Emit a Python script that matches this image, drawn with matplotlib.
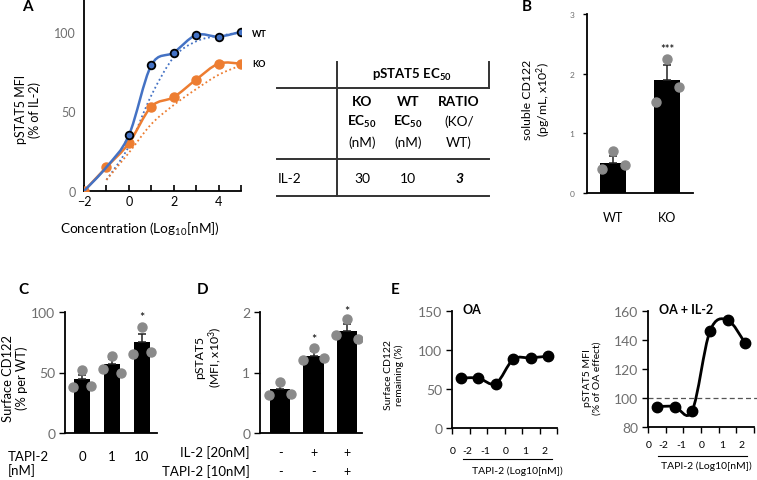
import numpy as np
import matplotlib
matplotlib.use("Agg")
import matplotlib.pyplot as plt
from matplotlib.path import Path
from matplotlib.patches import PathPatch
from matplotlib.lines import Line2D

plt.rcParams['font.family'] = ['Lato', 'DejaVu Sans']
plt.rcParams['mathtext.fontset'] = 'custom'
plt.rcParams['mathtext.rm'] = 'Lato'
plt.rcParams['mathtext.it'] = 'Lato:italic'
plt.rcParams['mathtext.bf'] = 'Lato:bold'

# ---------------- data ----------------
# Panel A
conc_A = [-2, -1, 0, 1, 2, 3, 4, 5]
wt_A = [0, 15, 35, 79, 87, 98, 97, 100]
ko_A = [0, 15, 30, 53, 59, 70, 80, 80]
fit_conc_A = [-1, 0, 1, 2, 3, 4, 5]
wt_fit_A = [7, 28, 60, 84, 94, 97.5, 99.5]
ko_fit_A = [7, 24, 42, 54, 64, 73, 79]

# Table
table_cols = ["KO", "WT", "RATIO"]
table_row = "IL-2"
table_vals = ["30", "10", "3"]

# Panel B
cats_B = ["WT", "KO"]
bars_B = [0.5, 1.9]
err_B = [0.12, 0.25]
dots_B = [[0.40, 0.70, 0.47], [1.52, 2.25, 1.77]]

# Panel C
cats_C = ["0", "1", "10"]
bars_C = [45, 57, 75]
err_C = [3, 4, 7]
dots_C = [[38, 52, 39], [53, 64, 50], [65, 88, 67]]

# Panel D
il2_D = ["-", "+", "+"]
tapi_D = ["-", "-", "+"]
bars_D = [0.72, 1.28, 1.68]
err_D = [0.10, 0.07, 0.12]
dots_D = [[0.63, 0.85, 0.65], [1.20, 1.40, 1.24], [1.62, 1.88, 1.55]]

# Panel E
cats_E = ["0", "-2", "-1", "0", "1", "2"]
oa_E = [64, 64, 57, 88, 90, 92]
oa_il2_E = [94, 94, 91, 146, 154, 138]

# ---------------- style ----------------
BLUE = "#4472C4"
ORANGE = "#ED7D31"
GRAY_DOT = "#8a8a8a"
TICK_GRAY = "#6e6e6e"

W, H = 757, 481
fig = plt.figure(figsize=(W / 100, H / 100), dpi=100)


def ax_px(left, top, right, bottom):
    return fig.add_axes([left / W, 1 - bottom / H, (right - left) / W, (bottom - top) / H])


def smooth(ax, xs, ys, **kw):
    pts = np.column_stack([xs, ys]).astype(float)
    n = len(pts)
    verts = [pts[0]]
    codes = [Path.MOVETO]
    for i in range(n - 1):
        p0 = pts[i - 1] if i > 0 else pts[i]
        p1 = pts[i]
        p2 = pts[i + 1]
        p3 = pts[i + 2] if i + 2 < n else pts[i + 1]
        c1 = p1 + (p2 - p0) / 6.0
        c2 = p2 - (p3 - p1) / 6.0
        verts += [c1, c2, p2]
        codes += [Path.CURVE4] * 3
    ax.add_patch(PathPatch(Path(verts, codes), fill=False, **kw))


def clean(ax):
    ax.spines['top'].set_visible(False)
    ax.spines['right'].set_visible(False)
    for s in ('left', 'bottom'):
        ax.spines[s].set_linewidth(1.3)
        ax.spines[s].set_color('black')


def letter(x, y, s):
    fig.text(x / W, 1 - y / H, s, ha='center', va='center', fontsize=11, fontweight='bold')


def fx(x):
    return x / W


def fy(y):
    return 1 - y / H


# ---------------- Panel A ----------------
axA = ax_px(84, 1, 241, 192)
clean(axA)
axA.set_xlim(-2, 5)
axA.set_ylim(0, 120)
smooth(axA, fit_conc_A, wt_fit_A, edgecolor=BLUE, lw=1.3, ls=(0, (1, 1.5)), zorder=2)
smooth(axA, fit_conc_A, ko_fit_A, edgecolor=ORANGE, lw=1.3, ls=(0, (1, 1.5)), zorder=2)
smooth(axA, conc_A, ko_A, edgecolor=ORANGE, lw=1.8, zorder=3)
axA.plot(conc_A, ko_A, 'o', color=ORANGE, ms=6.5, zorder=3)
smooth(axA, conc_A, wt_A, edgecolor=BLUE, lw=1.8, zorder=4)
axA.plot(conc_A, wt_A, 'o', color=BLUE, mec='black', mew=1.3, ms=5.5, markevery=slice(2, None),
         ls='none', zorder=5)
axA.set_yticks([0, 50, 100])
axA.set_xticks([-2, 0, 2, 4])
axA.set_xticks(np.arange(-2, 6), minor=True)
axA.tick_params(axis='y', length=0, labelsize=9, labelcolor=TICK_GRAY, pad=6)
axA.tick_params(axis='x', which='both', direction='in', length=4, width=1.2, labelsize=9, pad=3)
axA.text(5.5, 99, "WT", fontsize=6.5, fontweight='bold', va='center', clip_on=False)
axA.text(5.5, 80, "KO", fontsize=6.5, fontweight='bold', va='center', clip_on=False)
axA.text(-0.357, 0.43, "pSTAT5 MFI\n(% of IL-2)", transform=axA.transAxes, rotation=90,
         ha='center', va='center', fontsize=9, multialignment='center', linespacing=1.1)
fig.text(fx(140), fy(229), "Concentration (Log$_{10}$[nM])", ha='center', va='center', fontsize=9.8)
letter(27, 7, "A")

# ---------------- Table ----------------
lw_t = 1.4
tcol = "#333333"
for (x0, x1, y) in [(277, 489, 88.5), (277, 489, 160), (277, 489, 197)]:
    fig.add_artist(Line2D([fx(x0), fx(x1)], [fy(y), fy(y)], lw=lw_t, color=tcol))
fig.add_artist(Line2D([fx(337), fx(337)], [fy(63), fy(197)], lw=lw_t, color=tcol))
fig.add_artist(Line2D([fx(489), fx(489)], [fy(63), fy(88.5)], lw=lw_t, color=tcol))
fig.text(fx(412), fy(75), r"pSTAT5 EC$_\mathbf{50}$", ha='center', va='center', fontsize=9.5, fontweight='bold')
col_x = [362, 408, 459]
line2 = [r"EC$_\mathbf{50}$", r"EC$_\mathbf{50}$", "(KO/"]
line3 = ["(nM)", "(nM)", "WT)"]
for i, cx in enumerate(col_x):
    fig.text(fx(cx), fy(102), table_cols[i], ha='center', va='center', fontsize=9.8, fontweight='bold')
    fig.text(fx(cx), fy(122), line2[i], ha='center', va='center', fontsize=9.8,
             fontweight='bold' if i < 2 else 'normal')
    fig.text(fx(cx), fy(143), line3[i], ha='center', va='center', fontsize=9.8)
fig.text(fx(278), fy(179), table_row, ha='left', va='center', fontsize=9.8)
for i, cx in enumerate(col_x):
    fig.text(fx(cx), fy(179), table_vals[i], ha='center', va='center', fontsize=10,
             fontweight='bold' if i == 2 else 'normal', fontstyle='italic' if i == 2 else 'normal')

# ---------------- Panel B ----------------
axB = ax_px(587, 15, 693, 194)
clean(axB)
axB.set_xlim(-0.48, 1.48)
axB.set_ylim(0, 3)
xB = np.arange(len(cats_B))
axB.bar(xB, bars_B, width=0.48, color='black', zorder=2)
axB.errorbar(xB, bars_B, yerr=[np.zeros(len(err_B)), err_B], fmt='none', ecolor='#222222',
             elinewidth=1.1, capsize=3, capthick=1.1, zorder=3)
offs = np.array([-0.2, 0.0, 0.22])
for i, d in enumerate(dots_B):
    axB.plot(xB[i] + offs, d, 'o', color=GRAY_DOT, ms=6.5, zorder=4, clip_on=False)
axB.text(xB[1], 2.43, "***", ha='center', va='center', fontsize=8)
axB.set_yticks([0, 1, 2, 3])
axB.set_xticks(xB)
axB.set_xticklabels(cats_B)
axB.tick_params(axis='y', length=3, width=1, labelsize=6, labelcolor=TICK_GRAY, pad=6)
axB.tick_params(axis='x', length=0, labelsize=9, pad=13)
axB.text(-0.47, 0.525, "soluble CD122\n(pg/mL, x10$^{2}$)", transform=axB.transAxes, rotation=90,
         ha='center', va='center', fontsize=8.8, multialignment='center', linespacing=1.1)
letter(527, 7, "B")

# ---------------- Panel C ----------------
axC = ax_px(65, 313, 157, 434)
clean(axC)
axC.set_xlim(-0.57, 2.5)
axC.set_ylim(0, 100)
xC = np.arange(len(cats_C))
axC.bar(xC, bars_C, width=0.53, color='black', zorder=2)
axC.errorbar(xC, bars_C, yerr=[np.zeros(len(err_C)), err_C], fmt='none', ecolor='#222222',
             elinewidth=1.1, capsize=3, capthick=1.1, zorder=3)
offs = np.array([-0.3, 0.0, 0.3])
for i, d in enumerate(dots_C):
    axC.plot(xC[i] + offs, d, 'o', color=GRAY_DOT, ms=6.5, zorder=4)
axC.text(xC[2], 96, "*", ha='center', va='center', fontsize=9)
axC.set_yticks([0, 50, 100])
axC.set_xticks(xC)
axC.set_xticklabels(cats_C)
axC.tick_params(axis='y', length=4, width=1, labelsize=10, labelcolor=TICK_GRAY, pad=3)
axC.tick_params(axis='x', length=0, labelsize=9.5, pad=12)
axC.text(-0.543, 0.46, "Surface CD122\n(% per WT)", transform=axC.transAxes, rotation=90,
         ha='center', va='center', fontsize=9.3, multialignment='center', linespacing=1.1)
fig.text(fx(8), fy(457), "TAPI-2", ha='left', va='center', fontsize=9.5)
fig.text(fx(8), fy(471), "[nM]", ha='left', va='center', fontsize=9.5)
letter(23, 290, "C")

# ---------------- Panel D ----------------
axD = ax_px(260, 313, 362, 434)
clean(axD)
axD.set_xlim(-0.6, 2.45)
axD.set_ylim(0, 2)
xD = np.arange(len(bars_D))
axD.bar(xD, bars_D, width=0.6, color='black', zorder=2)
axD.errorbar(xD, bars_D, yerr=[np.zeros(len(err_D)), err_D], fmt='none', ecolor='#222222',
             elinewidth=1.1, capsize=3, capthick=1.1, zorder=3)
offs = np.array([-0.32, 0.0, 0.32])
for i, d in enumerate(dots_D):
    axD.plot(xD[i] + offs, d, 'o', color=GRAY_DOT, ms=6.5, zorder=4)
axD.text(xD[1], 1.56, "*", ha='center', va='center', fontsize=9)
axD.text(xD[2], 2.02, "*", ha='center', va='center', fontsize=9, clip_on=False)
axD.set_yticks([0, 1, 2])
axD.set_xticks([])
axD.tick_params(axis='y', length=4, width=1, labelsize=10, labelcolor=TICK_GRAY, pad=3)
axD.text(-0.5, 0.63, "pSTAT5\n(MFI, x10$^{3}$)", transform=axD.transAxes, rotation=90,
         ha='center', va='center', fontsize=8.8, multialignment='center', linespacing=1.1)
tD = axD.get_xaxis_transform()
for i in range(len(bars_D)):
    axD.text(xD[i], -0.157, il2_D[i], transform=tD, ha='center', va='center', fontsize=9)
    axD.text(xD[i], -0.314, tapi_D[i], transform=tD, ha='center', va='center', fontsize=9)
axD.text(-0.098, -0.157, "IL-2 [20nM]", transform=axD.transAxes, ha='right', va='center', fontsize=9.5)
axD.text(-0.098, -0.314, "TAPI-2 [10nM]", transform=axD.transAxes, ha='right', va='center', fontsize=9.5)
letter(203, 290, "D")

# ---------------- Panel E ----------------
label_pos_E = [0.05, 0.85, 1.9, 3.05, 4.2, 5.3]


def panelE(ax, vals, ylim, yticks, title, ylabel, ylab_xy, lab_y, line_x, line_y, xl_x, xl_y):
    clean(ax)
    xs = np.arange(len(vals)) + 0.5
    ax.set_xlim(0, len(vals))
    ax.set_ylim(*ylim)
    smooth(ax, xs, vals, edgecolor='black', lw=2.0, zorder=3)
    ax.plot(xs, vals, 'o', color='black', ms=7.5, zorder=4, clip_on=False)
    ax.set_yticks(yticks)
    ax.set_xticks(np.arange(len(vals) + 1))
    ax.set_xticklabels([])
    ax.tick_params(axis='y', length=4, width=1, labelsize=10, labelcolor=TICK_GRAY, pad=3)
    ax.tick_params(axis='x', length=4, width=1)
    ax.text(ylab_xy[0], ylab_xy[1], ylabel, transform=ax.transAxes, rotation=90,
            ha='center', va='center', fontsize=7.5, multialignment='center', linespacing=1.1)
    tr = ax.get_xaxis_transform()
    for p, s in zip(label_pos_E, cats_E):
        ax.text(p, lab_y, s, transform=tr, ha='center', va='center', fontsize=7.5)
    ax.plot(line_x, [line_y, line_y], transform=ax.transAxes, color='black', lw=0.8, clip_on=False)
    ax.text(xl_x, xl_y, "TAPI-2 (Log10[nM])", transform=ax.transAxes, ha='center', va='center', fontsize=7.5)
    ax.text(0.1, 1.02, title, transform=ax.transAxes, ha='left', va='center', fontsize=9, fontweight='bold')


axE1 = ax_px(452, 312, 557, 429)
panelE(axE1, oa_E, (0, 150), [0, 50, 100, 150], "OA", "Surface CD122\nremaining (%)",
       (-0.552, 0.46), -0.194, [0.105, 0.952], -0.265, 0.62, -0.36)

axE2 = ax_px(648, 312.3, 754, 427.7)
panelE(axE2, oa_il2_E, (80, 160), [80, 100, 120, 140, 160], "OA + IL-2", "pSTAT5 MFI\n(% of OA effect)",
       (-0.528, 0.43), -0.15, [0.094, 0.934], -0.25, 0.55, -0.33)
axE2.axhline(100, xmin=0, xmax=1.03, color='#555555', lw=0.9, ls=(0, (4, 2.5)), clip_on=False, zorder=2)
letter(395, 290, "E")

fig.savefig("out.png", dpi=100)
